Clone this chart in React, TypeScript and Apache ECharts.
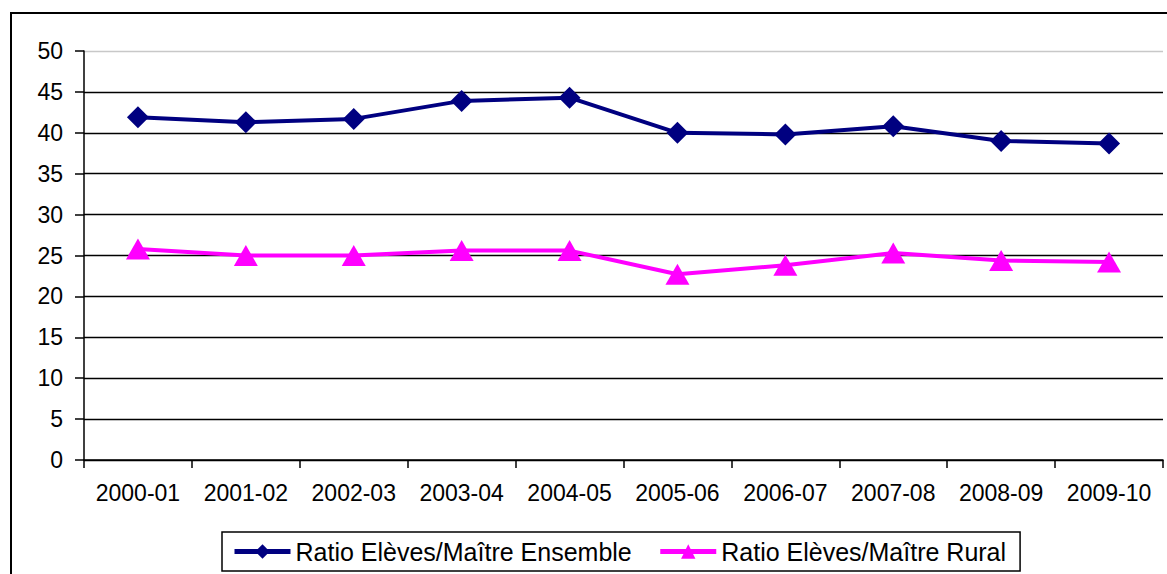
import React, { useEffect, useRef } from "react";
import * as echarts from "echarts";

const categories = ["2000-01", "2001-02", "2002-03", "2003-04", "2004-05", "2005-06", "2006-07", "2007-08", "2008-09", "2009-10"];
const ensemble = [41.9, 41.3, 41.7, 43.9, 44.3, 40.0, 39.8, 40.8, 39.0, 38.7];
const rural = [25.8, 25.0, 25.0, 25.6, 25.6, 22.7, 23.8, 25.3, 24.4, 24.2];
const seriesNames = ["Ratio Elèves/Maître Ensemble", "Ratio Elèves/Maître Rural"];

const FONT = "'Liberation Sans', Arial, sans-serif";

export default function App() {
  const ref = useRef<HTMLDivElement>(null);
  useEffect(() => {
    document.body.style.margin = "0";
    const chart = echarts.init(ref.current!, null, { renderer: "svg" });
    const gridColors = ["#000", "#000", "#000", "#000", "#000", "#000", "#000", "#000", "#000", "#000", "#c8c8c8"];
    chart.setOption({
      animation: false,
      backgroundColor: "#ffffff",
      textStyle: { fontFamily: FONT },
      graphic: [
        {
          type: "rect",
          shape: { x: 11, y: 13, width: 1170, height: 590 },
          style: { fill: "none", stroke: "#000", lineWidth: 2 },
          silent: true,
        },
      ],
      grid: { left: 84, right: 4, top: 51, bottom: 114, containLabel: false },
      legend: {
        left: 222,
        top: 532,
        height: 40,
        padding: [7, 14, 7, 10],
        itemGap: 26,
        itemWidth: 56,
        itemHeight: 18,
        borderColor: "#000",
        borderWidth: 1.5,
        lineStyle: { width: 5 },
        textStyle: { fontFamily: FONT, fontSize: 25, color: "#000" },
        data: seriesNames,
      },
      xAxis: {
        type: "category",
        data: categories,
        boundaryGap: true,
        axisLine: { show: true, lineStyle: { color: "#000", width: 1.5 } },
        axisTick: { show: true, interval: 0, length: 8, lineStyle: { color: "#000", width: 1.5 } },
        axisLabel: { interval: 0, hideOverlap: false, fontFamily: FONT, fontSize: 23, color: "#000", margin: 21 },
        splitLine: { show: false },
      },
      yAxis: {
        type: "value",
        min: 0,
        max: 50,
        interval: 5,
        axisLine: { show: true, lineStyle: { color: "#000", width: 1.5 } },
        axisTick: { show: true, length: 9, lineStyle: { color: "#000", width: 1.5 } },
        axisLabel: { fontFamily: FONT, fontSize: 23, color: "#000", margin: 21 },
        splitLine: { show: true, lineStyle: { color: gridColors, width: 1.3 } },
      },
      series: [
        {
          name: seriesNames[0],
          type: "line",
          data: ensemble,
          symbol: "diamond",
          symbolSize: [22, 22],
          lineStyle: { color: "#000080", width: 4 },
          itemStyle: { color: "#000080" },
        },
        {
          name: seriesNames[1],
          type: "line",
          data: rural,
          symbol: "triangle",
          symbolSize: [24, 21],
          lineStyle: { color: "#FF00FF", width: 4 },
          itemStyle: { color: "#FF00FF" },
        },
      ],
    });
    return () => chart.dispose();
  }, []);
  return <div ref={ref} style={{ position: "absolute", left: 0, top: 0, width: 1167, height: 574 }} />;
}
